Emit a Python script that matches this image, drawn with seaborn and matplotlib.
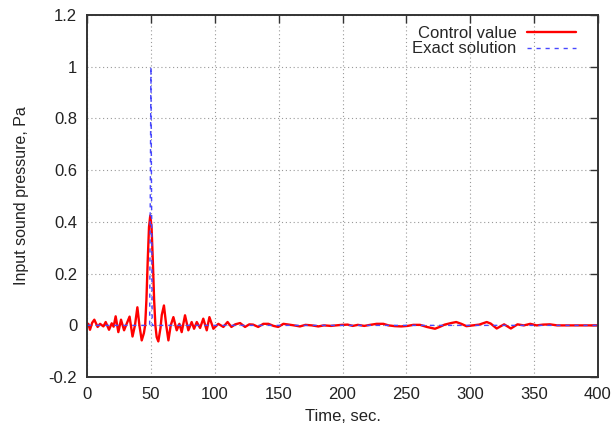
import matplotlib
matplotlib.use("Agg")
import matplotlib.pyplot as plt
import seaborn as sns

# ---- data ----
ctrl_time = [0, 1, 2.3, 4, 5.7, 8.3, 10.2, 12.8, 14.6, 17.2, 19.3, 20.8, 22.4, 24.5,
             26.6, 29, 30.5, 33.3, 35.6, 37.5, 39.4, 41, 42.8, 44.5, 45.5, 46.5,
             47.5, 48.5, 49.5, 50.5, 51.5, 52.5, 53.5, 54.5, 55.8, 57.5, 58.5, 60.2,
             62, 63.7, 65.5,
             67.6, 70.2, 72.3, 74.1, 76.7, 79.3, 81.9, 83.8, 85.9, 88.5, 91, 93.7,
             95.8, 98.9, 102.8, 106.7, 110, 113, 116, 119.8, 123.7, 127, 130, 134,
             138, 142, 146, 149.7, 153.7, 158, 162, 166.7, 171, 176, 181, 185.5,
             191, 195, 199.4, 204, 208, 212, 217, 221.6, 226.7, 232, 236, 241, 246,
             251, 255.4, 260.7, 266, 272.4, 276, 280, 285, 289, 293, 297, 302, 307,
             312.9, 316, 320.7, 326.5, 331.8, 337, 342, 347, 352, 357, 362.4, 368,
             375, 400]
ctrl_value = [0.0, 0.006, -0.017, 0.01, 0.022, -0.006, 0.006, -0.004, 0.013, -0.017,
              0.008, -0.005, 0.035, -0.026, 0.022, -0.019, 0.0, 0.034, -0.043, 0.0,
              0.07, 0.0, -0.058, -0.03, 0.0, 0.1, 0.25, 0.38, 0.425, 0.38, 0.25,
              0.1, 0.0, -0.045, -0.062, -0.01, 0.04, 0.077, 0.0, -0.058, 0.0, 0.032,
              -0.019, 0.006, -0.026, 0.039, -0.019, 0.013, -0.013, 0.013, -0.01,
              0.026, -0.019, 0.032, -0.013, 0.006, -0.006, 0.013, -0.006, 0.004,
              0.009, -0.006, 0.004, 0.003, -0.006, 0.006, 0.006, -0.002, -0.006,
              0.006, 0.003, 0.0, -0.004, 0.002, 0.0, -0.004, 0.0, -0.002, 0.0, 0.002,
              0.003, -0.002, 0.002, -0.002, 0.002, 0.006, 0.006, 0.0, -0.003, -0.004,
              -0.002, 0.002, 0.002, -0.006, -0.013, -0.006, 0.003, 0.009, 0.013,
              0.006, -0.003, 0.0, 0.003, 0.013, 0.007, -0.012, 0.004, -0.012, 0.004,
              0.0, 0.006, 0.0, 0.003, 0.004, 0.0, 0.0, 0.0]

exact_time = [0, 49, 50, 51, 400]
exact_value = [0.0, 0.0, 1.0, 0.0, 0.0]

x_ticks = [0, 50, 100, 150, 200, 250, 300, 350, 400]
y_ticks = [-0.2, 0, 0.2, 0.4, 0.6, 0.8, 1, 1.2]
y_tick_labels = ["-0.2", "0", "0.2", "0.4", "0.6", "0.8", "1", "1.2"]

sns.set_style("white")
plt.rcParams["font.family"] = ["Liberation Sans", "DejaVu Sans"]

fig = plt.figure(figsize=(6.13, 4.30), dpi=100)
ax = fig.add_axes([0.142, 0.123, 0.9755 - 0.142, 0.965 - 0.123])

sns.lineplot(x=ctrl_time, y=ctrl_value, ax=ax, color="#ff0000", linewidth=1.7,
             label="Control value", sort=False, estimator=None)
sns.lineplot(x=exact_time, y=exact_value, ax=ax, color="#4848ff", linewidth=1.0,
             linestyle=(0, (3, 3.5)), label="Exact solution", sort=False,
             estimator=None)

ax.set_xlim(0, 400)
ax.set_ylim(-0.2, 1.2)
ax.set_xticks(x_ticks)
ax.set_yticks(y_ticks)
ax.set_yticklabels(y_tick_labels)

ax.grid(True, color="#999999", linestyle=(0, (1, 2.5)), linewidth=0.8)
ax.set_axisbelow(True)
for s in ax.spines.values():
    s.set_visible(True)
    s.set_color("#333333")
    s.set_linewidth(1.4)

ax.tick_params(direction="in", length=5.5, width=1.0, color="#333333",
               top=True, right=True, labelsize=12, labelcolor="#222222", pad=7)

ax.set_xlabel("Time, sec.", fontsize=12, color="#222222", labelpad=5)
ax.set_ylabel("Input sound pressure, Pa", fontsize=11.5, color="#222222",
              labelpad=14)

leg = ax.legend(loc="upper right", bbox_to_anchor=(0.9805, 1.003),
                frameon=False, markerfirst=False, handlelength=2.95,
                fontsize=12, labelspacing=0.05, borderaxespad=0.3,
                handletextpad=0.65)

fig.savefig("out.png", dpi=100)
